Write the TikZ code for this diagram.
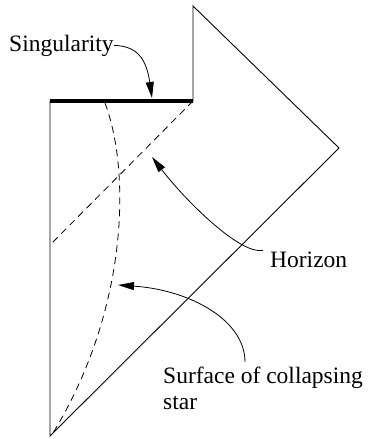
\documentclass[tikz,border=0pt]{standalone}
\usepackage{fontspec}
\setmainfont{Liberation Serif}
\usetikzlibrary{arrows.meta}
\begin{document}
\begin{tikzpicture}[x=1pt,y=-1pt,
  edge/.style={line width=0.9pt,line join=miter},
  horiz/.style={line width=0.8pt,dash pattern=on 7pt off 5pt},
  sing/.style={line width=4pt},
  callout/.style={line width=0.8pt,-{Triangle[length=16pt,width=8pt]}},
  lbl/.style={inner sep=0pt,font=\fontsize{23.5}{26}\selectfont,align=left}]
\useasboundingbox (0,0) rectangle (369,439);
% vertices
\coordinate (sl) at (50,101);
\coordinate (bot) at (50,436);
\coordinate (rc) at (339,148);
\coordinate (top) at (193,6);
\coordinate (sr) at (193,101);
\coordinate (hl) at (50,245);
\coordinate (st) at (105,103);
\coordinate (sb) at (53,433);
% diagram
\draw[edge] (sl) -- (bot) -- (rc) -- (top) -- (sr);
\draw[sing] (sl) -- (sr);
\draw[horiz] (sr) -- (hl);
\draw[horiz] (st) .. controls (131,172) and (128,310) .. (sb);
% labels
\node[lbl,anchor=base west] (lsing) at (9,51) {Singularity};
\node[lbl,anchor=base west] (lhor) at (270,267) {Horizon};
\node[lbl,anchor=north west] (lsurf) at (163,367) {Surface of collapsing\\star};
% callout arrows
\coordinate (tsing) at (152,98);
\coordinate (thor) at (152,157);
\coordinate (tsurf) at (118,285);
\draw[callout] (lsing.east) .. controls (135,46) and (146,56) .. (tsing);
\draw[callout] (lhor.west) ++(-7,-9) .. controls (240,255) and (185,200) .. (thor);
\draw[callout] (lsurf.north west) ++(82,-5) .. controls (245,320) and (190,290) .. (tsurf);
\end{tikzpicture}
\end{document}
